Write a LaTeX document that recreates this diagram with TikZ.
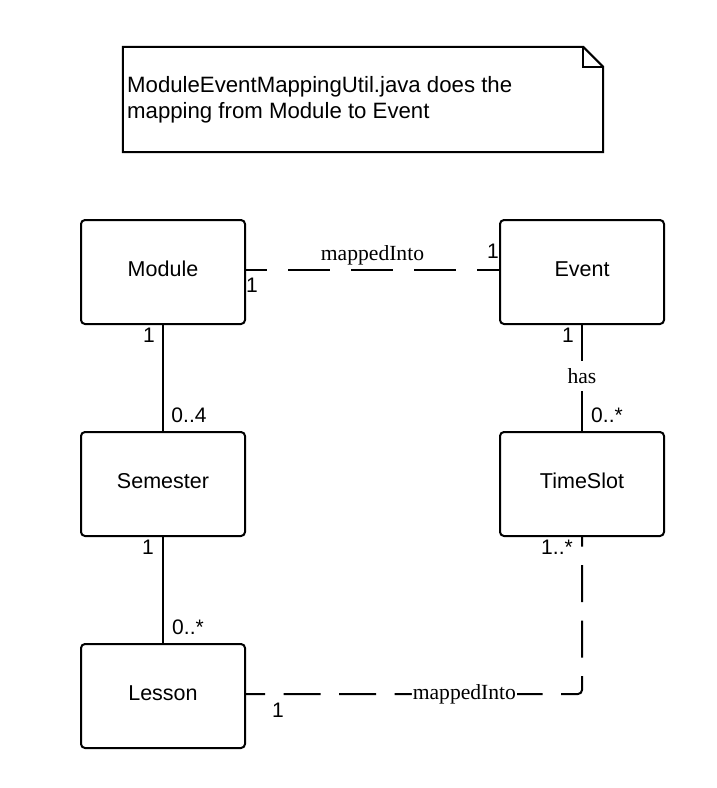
\documentclass[tikz,border=0pt]{standalone}
\usepackage{fontspec}
\setmainfont{Liberation Sans}
\newfontfamily\serff{Liberation Serif}
\begin{document}
\begin{tikzpicture}[x=1pt,y=-1pt,
  umlbox/.style={draw, line width=2pt, rounded corners=4pt, minimum width=164pt, minimum height=104pt, inner sep=0pt, text height=15.4pt, text depth=6pt, font=\fontsize{21.5}{26}\selectfont},
  conn/.style={line width=2pt},
  dashA/.style={conn, dash pattern=on 42pt off 21pt, dash phase=21pt},
  dashB/.style={conn, dash pattern=on 37pt off 18.5pt, dash phase=18pt, rounded corners=4pt},
  mult/.style={inner sep=0pt, font=\fontsize{21}{25}\selectfont},
  rel/.style={inner sep=0pt, font=\serff\fontsize{21.6}{25}\selectfont},
  notetxt/.style={anchor=base west, inner sep=0pt, font=\fontsize{22.2}{26}\selectfont}
]
\useasboundingbox (0,0) rectangle (716,788);
\fill[white] (0,0) rectangle (716,788);

% note
\node[minimum width=480pt, minimum height=105pt, inner sep=0pt] (note) at (363,99.5) {};
\draw[line width=2pt, line join=miter] (note.north west) -- ([xshift=-20pt]note.north east) -- ([yshift=-20pt]note.north east) -- (note.south east) -- (note.south west) -- cycle;
\draw[line width=1.5pt] ([xshift=-20pt]note.north east) |- ([yshift=-20pt]note.north east);
\node[notetxt] (notel1) at (127,92) {ModuleEventMappingUtil.java does the};
\node[notetxt] (notel2) at (127,118) {mapping from Module to Event};

% classes
\node[umlbox] (Module) at (163,272) {Module};
\node[umlbox] (Event) at (582,272) {Event};
\node[umlbox] (Semester) at (163,484) {Semester};
\node[umlbox] (TimeSlot) at (582,484) {TimeSlot};
\node[umlbox] (Lesson) at (163,696) {Lesson};

% Module - Event
\draw[dashA] ([yshift=2pt]Module.east) -- ([yshift=2pt]Event.west)
  node[rel, pos=0.5, anchor=base, yshift=10pt] (mapA) {mappedInto};
\node[mult] (mA1) at (252,285) {1};
\node[mult] (mA2) at (493,251) {1};

% Module - Semester
\draw[conn] (Module.south) -- (Semester.north);
\node[mult] (mB1) at (149,335) {1};
\node[mult] (mB2) at (189,415) {0..4};

% Semester - Lesson
\draw[conn] (Semester.south) -- (Lesson.north);
\node[mult] (mC1) at (148,547) {1};
\node[mult] (mC2) at (188,627) {0..*};

% Event - TimeSlot
\draw[conn] (Event.south) -- (TimeSlot.north)
  node[rel, pos=0.48, fill=white, inner xsep=2pt, inner ysep=7.5pt] (has) {has};
\node[mult] (mD1) at (568,335) {1};
\node[mult] (mD2) at (607,415) {0..*};

% Lesson - TimeSlot
\draw[dashB] ([yshift=2pt]Lesson.east) -| (TimeSlot.south)
  node[rel, pos=0.325, fill=white, inner xsep=1pt, inner ysep=3pt] (mapB) {mappedInto};
\node[mult] (mE1) at (557,547) {1..*};
\node[mult] (mE2) at (278,710) {1};
\end{tikzpicture}
\end{document}
